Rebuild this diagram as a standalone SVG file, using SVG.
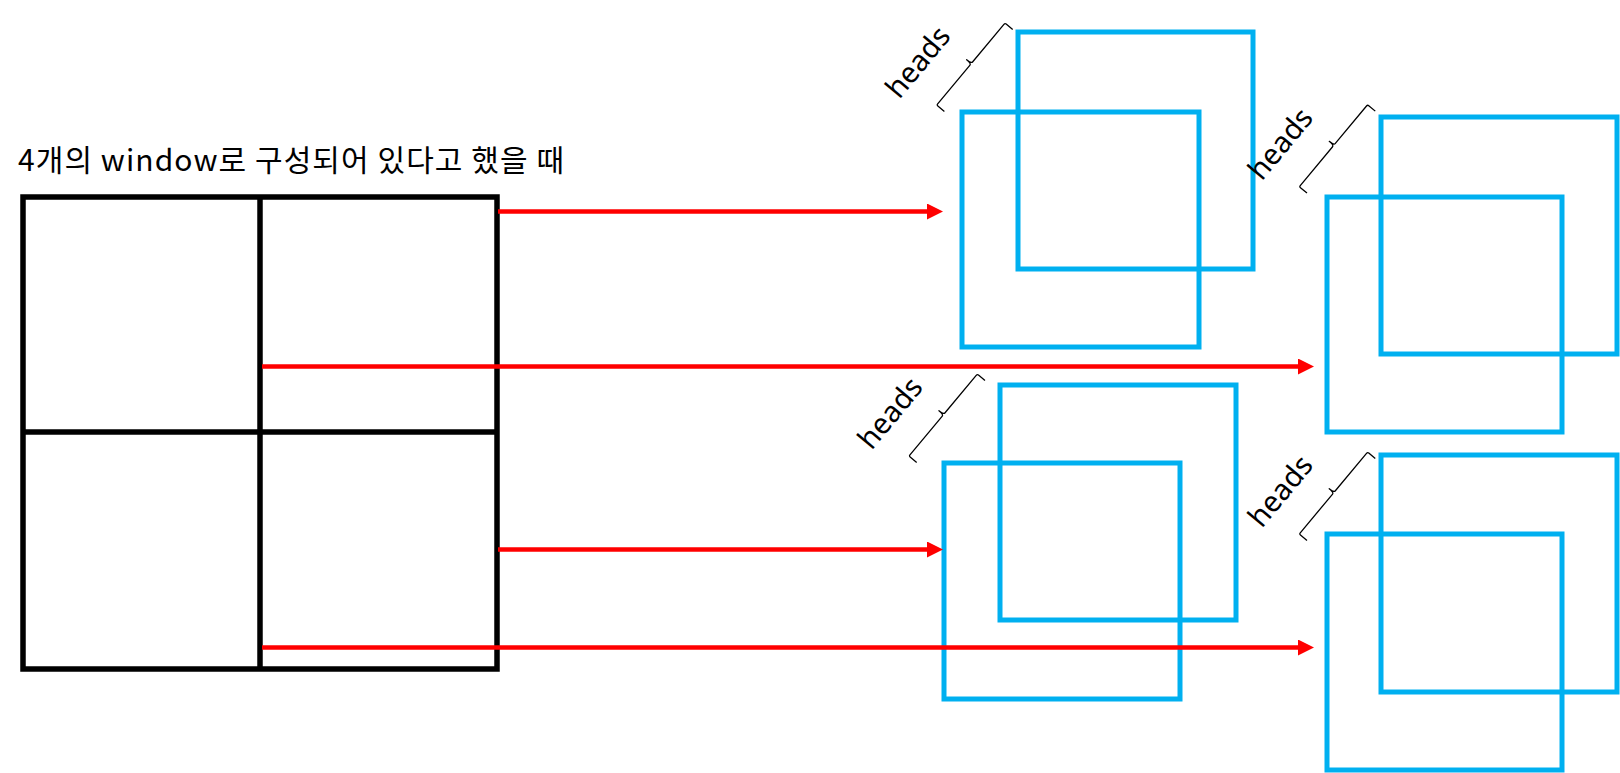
<svg xmlns="http://www.w3.org/2000/svg" width="1620" height="773" viewBox="0 0 1620 773">
  <style>
    .grid { fill: none; stroke: #000000; stroke-width: 5.5; }
    .win { fill: none; stroke: #00B0F0; stroke-width: 5; }
    .arrow { fill: none; stroke: #FF0000; stroke-width: 4.5; marker-end: url(#ah); }
    .brace { fill: none; stroke: #000000; stroke-width: 1.3; stroke-linejoin: round; }
    .title { font-family: "Noto Sans CJK KR", "Noto Sans", sans-serif; font-size: 30px; fill: #000000; }
    .lbl { font-family: "Noto Sans", "Noto Sans CJK KR", sans-serif; font-size: 29px; fill: #000000; text-anchor: middle; }
  </style>
  <defs>
    <marker id="ah" markerUnits="userSpaceOnUse" markerWidth="17" markerHeight="17" refX="2" refY="8" orient="auto">
      <path d="M0,0 L16,8 L0,16 Z" fill="#FF0000"/>
    </marker>
    <g id="headsBrace">
      <path class="brace" d="M0,10 L0,1.5 Q0,0 1.5,0 L52,0 Q54,0 54,-6 Q54,0 56,0 L105,0 Q106.7,0 106.7,1.5 L106.7,10"/>
      <text class="lbl" x="21" y="-32">heads</text>
    </g>
  </defs>

  <text id="title" class="title" x="18" y="171" textLength="546" lengthAdjust="spacing">4개의 window로 구성되어 있다고 했을 때</text>

  <g id="grid">
    <rect class="grid" x="23" y="197" width="474" height="472"/>
    <line class="grid" x1="260" y1="197" x2="260" y2="669"/>
    <line class="grid" x1="23" y1="432" x2="497" y2="432"/>
  </g>

  <g id="group1">
    <rect class="win" x="1018" y="32" width="235" height="237"/>
    <rect class="win" x="962" y="112" width="237" height="235"/>
    <use href="#headsBrace" transform="translate(936.7,105) rotate(-50.2)"/>
  </g>

  <g id="group2">
    <rect class="win" x="1381" y="117" width="236" height="237"/>
    <rect class="win" x="1327" y="197" width="235" height="235"/>
    <use href="#headsBrace" transform="translate(1299.3,186.7) rotate(-50.2)"/>
  </g>

  <g id="group3">
    <rect class="win" x="1000" y="385" width="236" height="235"/>
    <rect class="win" x="944" y="463" width="236" height="236"/>
    <use href="#headsBrace" transform="translate(909,456) rotate(-50.2)"/>
  </g>

  <g id="group4">
    <rect class="win" x="1381" y="455" width="236" height="237"/>
    <rect class="win" x="1327" y="534" width="235" height="236"/>
    <use href="#headsBrace" transform="translate(1299.3,534) rotate(-50.2)"/>
  </g>

  <g id="connectors">
    <line class="arrow" x1="498" y1="211.5" x2="929" y2="211.5"/>
    <line class="arrow" x1="262" y1="366.5" x2="1300" y2="366.5"/>
    <line class="arrow" x1="498" y1="549.5" x2="929" y2="549.5"/>
    <line class="arrow" x1="262" y1="647.5" x2="1300" y2="647.5"/>
  </g>
</svg>
